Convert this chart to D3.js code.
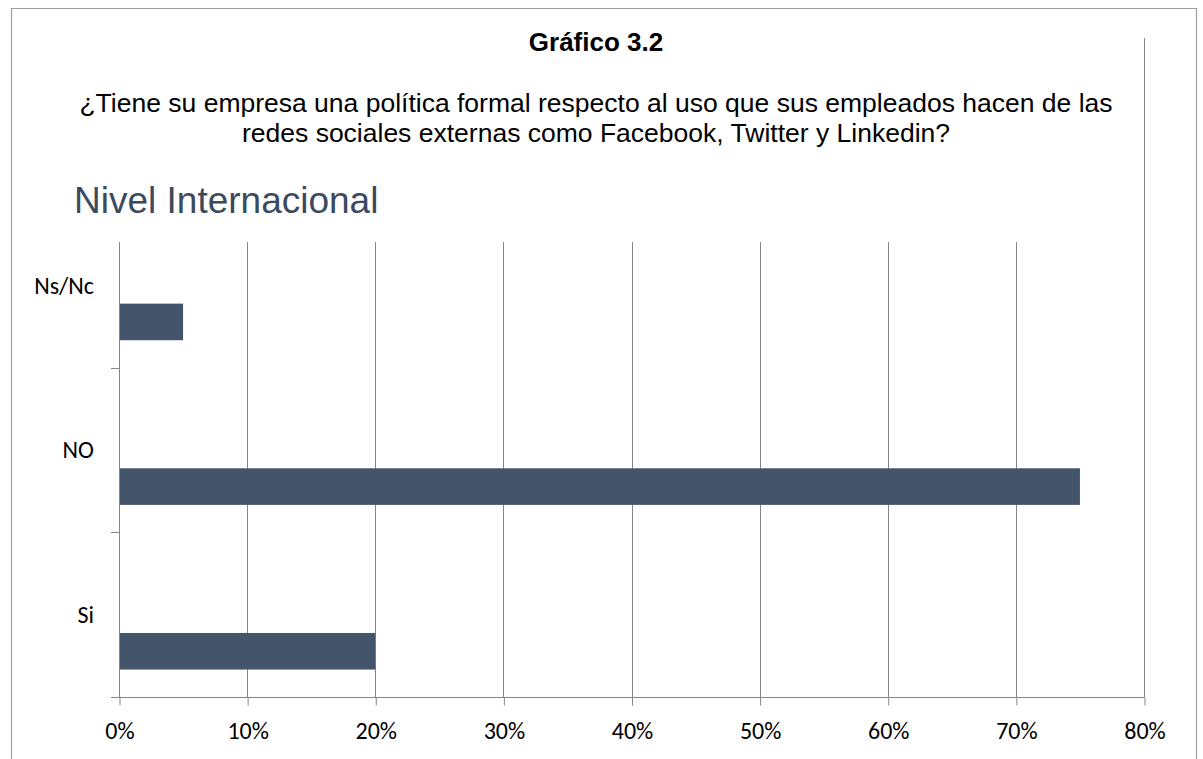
<!DOCTYPE html>
<html>
<head>
<meta charset="utf-8">
<script src="https://cdn.jsdelivr.net/npm/d3@7"></script>
<style>
  html, body { margin: 0; padding: 0; background: #fff; }
  svg { display: block; }
</style>
</head>
<body>
<svg id="chart" width="1203" height="759"></svg>
<script>
// ---- data ----
const categories = ["Ns/Nc", "NO", "Si"];          // top to bottom
const values = [0.05, 0.75, 0.20];                  // share of respondents
const xTicks = [0, 0.1, 0.2, 0.3, 0.4, 0.5, 0.6, 0.7, 0.8];
const seriesSlots = ["s1", "s2", "s3"];             // the bars occupy the third slot
const dataSlot = "s3";
const chartTitle = "Gráfico 3.2";
const questionLines = [
  "¿Tiene su empresa una política formal respecto al uso que sus empleados hacen de las",
  "redes sociales externas como Facebook, Twitter y Linkedin?"
];
const subTitle = "Nivel Internacional";

// ---- drawing ----
const svg = d3.select("#chart");
svg.append("rect").attr("width", 1203).attr("height", 759).attr("fill", "#fff");

// outer frame
svg.append("path")
  .attr("d", "M11.5,760 V8.5 H1196.5 V760")
  .attr("fill", "none").attr("stroke", "#a0a0a0").attr("stroke-width", 1.2);

const x = d3.scaleLinear().domain([0, 0.8]).range([119, 1144]);
const y = d3.scaleBand().domain(categories).range([203, 697]).paddingInner(0).paddingOuter(0);
const slot = d3.scaleBand().domain(seriesSlots).range([0, y.bandwidth()]).paddingInner(0).paddingOuter(0.75);

const gridTop = 242, axisY = 697;
const gray = "#868686";
const labelFont = "Carlito, Lato, 'Open Sans', sans-serif";

// page rule on the right, merging with the last gridline
svg.append("line")
  .attr("x1", 1144.5).attr("x2", 1144.5).attr("y1", 38).attr("y2", gridTop)
  .attr("stroke", gray).attr("stroke-width", 1);

// gridlines
svg.append("g").selectAll("line").data(xTicks.slice(1)).join("line")
  .attr("x1", d => Math.round(x(d)) + 0.5).attr("x2", d => Math.round(x(d)) + 0.5)
  .attr("y1", gridTop).attr("y2", axisY)
  .attr("stroke", gray).attr("stroke-width", 1);

// bars
svg.append("g").selectAll("rect").data(categories).join("rect")
  .attr("x", x(0))
  .attr("y", (d) => y(d) + slot(dataSlot))
  .attr("width", (d, i) => x(values[i]) - x(0))
  .attr("height", slot.bandwidth())
  .attr("fill", "#44546a");

// x axis
const xAxis = d3.axisBottom(x).tickValues(xTicks).tickFormat(d3.format(".0%")).tickSize(8).tickPadding(16);
const gx = svg.append("g").attr("transform", `translate(0.5,${axisY + 0.5})`).call(xAxis);
gx.select(".domain").attr("d", `M${111 - 0.5},0H${1144}`).attr("stroke", gray);
gx.selectAll(".tick line").attr("stroke", gray);
gx.selectAll(".tick text")
  .attr("fill", "#000")
  .style("font-family", labelFont)
  .style("font-size", "24px");

// y axis (category)
svg.append("line")
  .attr("x1", 119.5).attr("x2", 119.5).attr("y1", gridTop).attr("y2", axisY)
  .attr("stroke", gray);
const boundaries = categories.map(c => y(c) + y.bandwidth());
svg.append("g").selectAll("line").data(boundaries).join("line")
  .attr("x1", 111).attr("x2", 119.5)
  .attr("y1", d => Math.round(d) + 0.5).attr("y2", d => Math.round(d) + 0.5)
  .attr("stroke", gray);
svg.append("g").selectAll("text").data(categories).join("text")
  .attr("x", 94)
  .attr("y", d => y(d) + y.bandwidth() / 2)
  .attr("dy", "0.35em")
  .attr("text-anchor", "end")
  .style("font-family", labelFont)
  .style("font-size", "24px")
  .attr("fill", "#000")
  .text(d => d);

// titles
svg.append("text")
  .attr("x", 596).attr("y", 51)
  .attr("text-anchor", "middle")
  .style("font-family", "'Liberation Sans', Arial, sans-serif")
  .style("font-weight", "bold").style("font-size", "26px")
  .attr("fill", "#000")
  .text(chartTitle);

svg.append("g").selectAll("text").data(questionLines).join("text")
  .attr("x", 596).attr("y", (d, i) => 112 + i * 30)
  .attr("text-anchor", "middle")
  .style("font-family", "'Liberation Sans', Arial, sans-serif")
  .style("font-size", "26.5px")
  .attr("fill", "#000")
  .text(d => d);

svg.append("text")
  .attr("x", 74).attr("y", 213)
  .style("font-family", "'Liberation Sans', Arial, sans-serif")
  .style("font-size", "37px")
  .attr("fill", "#3b4a5e")
  .text(subTitle);
</script>
</body>
</html>
